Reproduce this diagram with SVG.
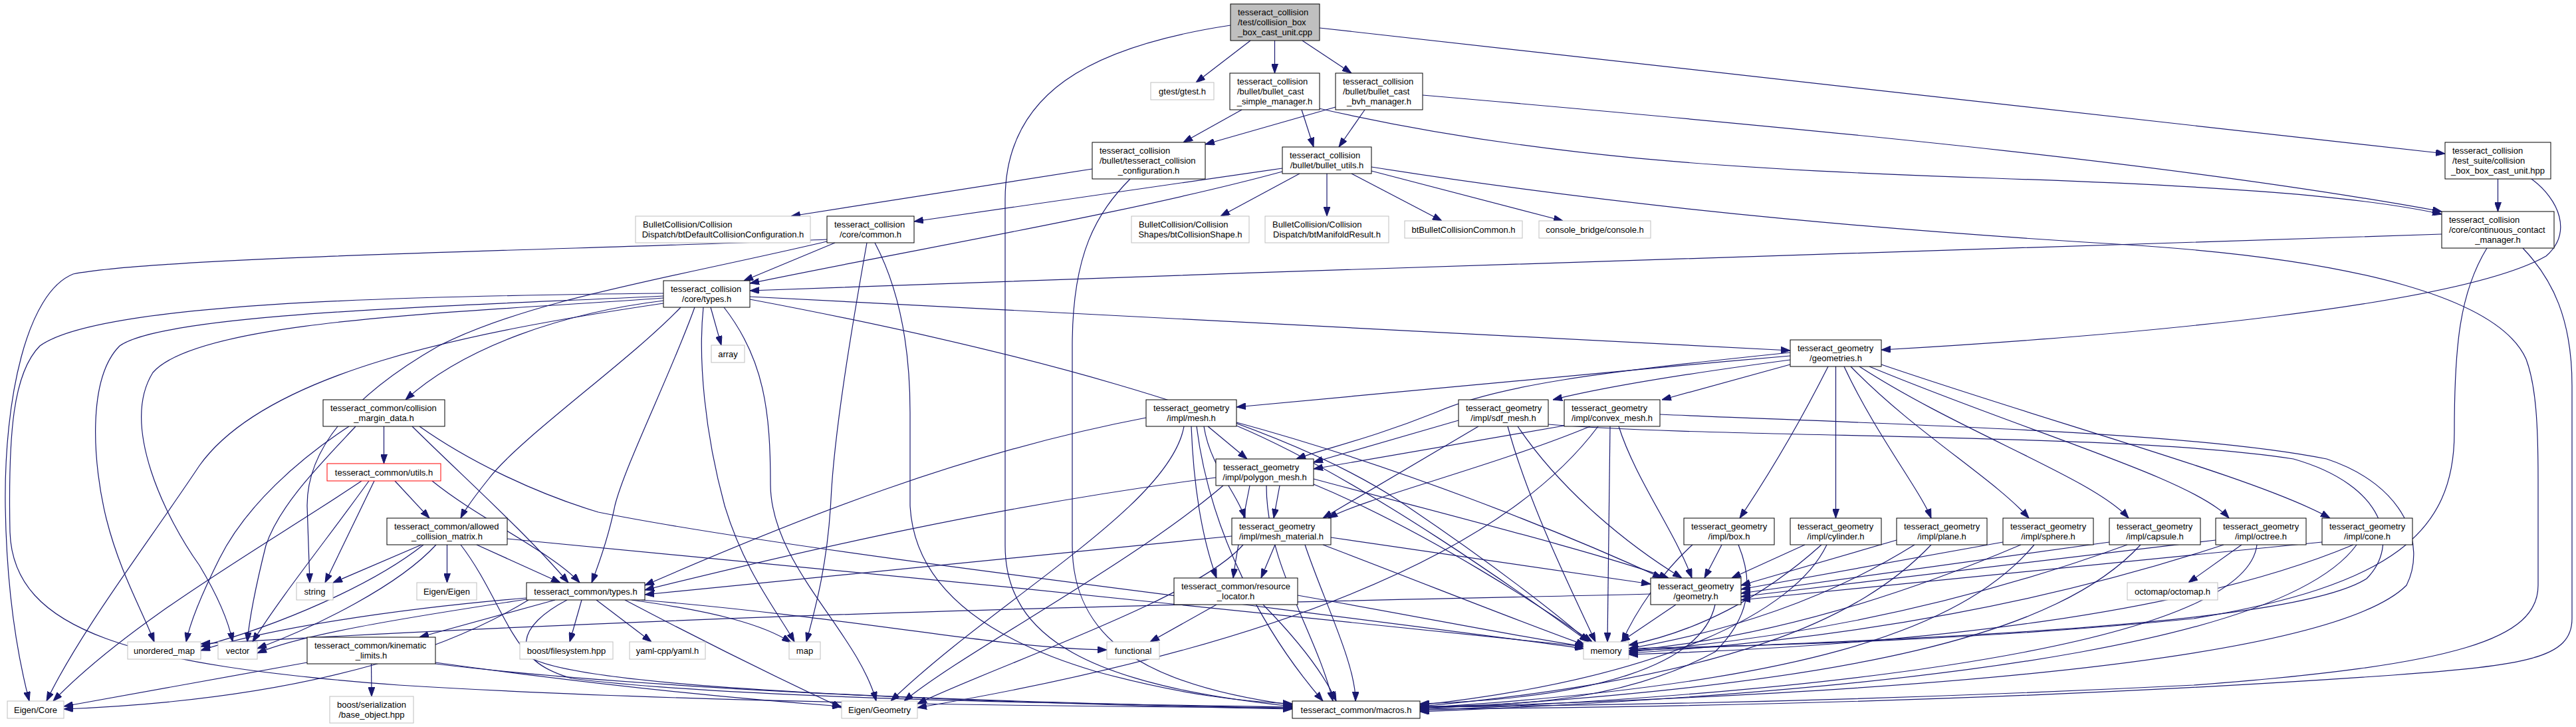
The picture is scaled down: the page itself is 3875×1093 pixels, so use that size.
<svg xmlns="http://www.w3.org/2000/svg" width="3875" height="1093" viewBox="0 0 3875 1093">
<style>
.nd rect{fill:#fff;stroke:#000;stroke-width:1}
.ext rect{fill:#fff;stroke:#bfbfbf;stroke-width:1}
.rt rect{fill:#bfbfbf;stroke:#000;stroke-width:1}
.red rect{fill:#fff;stroke:#ff0000;stroke-width:1}
text{font-family:"Liberation Sans",Arial,Helvetica,sans-serif;font-size:13px;fill:#000}
.m{text-anchor:middle}
.s{text-anchor:start}
#edges path{fill:none;stroke:#191970;stroke-width:1.2;marker-end:url(#ah)}
</style>
<defs>
<marker id="ah" viewBox="0 0 14 10" refX="14" refY="5" markerWidth="14" markerHeight="10" markerUnits="userSpaceOnUse" orient="auto">
<path d="M0,0 L14,5 L0,10 z" fill="#191970" stroke="#191970" stroke-width="1"/>
</marker>
</defs>
<rect x="0" y="0" width="3875" height="1093" fill="#fff"/>
<g id="edges">
<path d="M1881,61 L1799,124"/>
<path d="M1917.5,61 L1917.5,110"/>
<path d="M1959,61 L2033,110"/>
<path d="M1985,42 L3678,231"/>
<path d="M1851,38 C1640,70 1512,140 1512,300 L1512,820 C1512,960 1640,1030 1944,1062"/>
<path d="M1868,165 L1780,214"/>
<path d="M1958,165 L1976,221"/>
<path d="M1984,163 C2300,235 2600,255 3000,268 C3350,280 3550,295 3673,322"/>
<path d="M2009,161 L1813,217"/>
<path d="M2053,165 L2014,221"/>
<path d="M2140,143 C2800,200 3300,250 3673,318"/>
<path d="M3757.5,269 L3757.5,318"/>
<path d="M3808,269 C3850,300 3870,350 3830,385 C3700,460 3200,505 2830,526"/>
<path d="M1643,254 L1190,325"/>
<path d="M1700,269 C1650,320 1613,380 1613,520 L1613,820 C1613,960 1720,1030 1944,1060"/>
<path d="M1929,253 L1375,333"/>
<path d="M1929,258 C1700,320 1400,370 1128,426"/>
<path d="M1955,261 L1836,325"/>
<path d="M1996,261 L1996,325"/>
<path d="M2033,261 L2169,332"/>
<path d="M2063,257 L2351,332"/>
<path d="M2063,251 C2500,320 2900,350 3200,368 C3550,390 3760,450 3800,540 C3815,580 3818,640 3818,720 L3818,880 C3818,960 3700,1000 3300,1030 C2900,1050 2500,1060 2136,1063"/>
<path d="M3673,352 C3000,372 2000,405 1128,437"/>
<path d="M3741,373 C3700,440 3692,520 3692,650 C3692,800 3600,880 3300,930 C3000,960 2700,970 2450,975"/>
<path d="M3795,373 C3840,420 3869,480 3869,580 L3869,930 C3869,990 3800,1000 3600,1015 C3100,1050 2600,1063 2136,1066"/>
<path d="M1256,365 L1119,422"/>
<path d="M1244,360 C900,375 250,385 110,412 C40,440 6,600 8,760 C10,900 30,1000 44,1054"/>
<path d="M1244,363 C1000,420 800,450 660,520 C520,600 462,680 462,760 L466,876"/>
<path d="M1304,365 C1280,500 1255,650 1250,750 C1245,850 1225,920 1213,965"/>
<path d="M1316,365 C1345,420 1369,500 1369,620 L1369,760 C1375,880 1480,960 1650,1010 C1780,1045 1870,1055 1944,1058"/>
<path d="M1069,462 L1085,519"/>
<path d="M1128,446 L2693,527"/>
<path d="M998,452 C850,470 700,520 610,601"/>
<path d="M1024,462 C950,540 780,660 735,720 C715,745 700,765 693,779"/>
<path d="M1045,462 C1010,560 940,700 925,760 C915,810 900,850 890,876"/>
<path d="M1058,462 C1050,540 1060,650 1090,760 C1120,860 1170,920 1195,965"/>
<path d="M1128,450 C1500,520 1900,620 2100,750 C2250,850 2350,930 2390,965"/>
<path d="M998,445 C700,460 250,470 180,520 C130,570 140,700 160,780 C180,860 215,920 232,965"/>
<path d="M998,448 C700,470 300,480 230,560 C180,640 250,780 300,850 C330,900 345,940 350,965"/>
<path d="M998,456 C700,500 400,560 300,700 C220,820 120,950 70,1054"/>
<path d="M1089,462 C1150,540 1159,620 1159,729 C1160,850 1290,950 1318,1054"/>
<path d="M998,441 C600,445 150,455 60,520 C20,560 12,650 15,800 C20,950 200,1000 600,1030 C1000,1055 1500,1062 1944,1064"/>
<path d="M577.5,641 L577.5,697"/>
<path d="M620,641 C700,720 790,800 855,876"/>
<path d="M631,641 C700,690 800,740 900,770 C1200,830 1900,910 2383,975"/>
<path d="M525,641 C450,690 370,760 330,840 C300,900 285,940 280,965"/>
<path d="M535,641 C480,700 420,760 400,820 C385,880 375,930 372,965"/>
<path d="M544,723 C400,820 200,930 80,1054"/>
<path d="M563,723 L489,876"/>
<path d="M594,723 L646,779"/>
<path d="M650,723 C720,780 830,830 872,876"/>
<path d="M555,723 C500,800 420,900 380,965"/>
<path d="M634,819 L501,876"/>
<path d="M637,819 C560,880 420,940 302,972"/>
<path d="M656,819 C600,880 480,940 387,975"/>
<path d="M672.5,819 L672.5,876"/>
<path d="M717,819 L843,876"/>
<path d="M693,819 C740,880 760,950 800,990 C900,1040 1500,1055 1944,1065"/>
<path d="M763,810 C1200,850 2000,930 2383,972"/>
<path d="M792,899 C600,915 400,945 302,978"/>
<path d="M792,901 C600,930 450,955 387,982"/>
<path d="M835,902 L631,958"/>
<path d="M795,902 C700,960 500,1050 96,1066"/>
<path d="M875,902 L857,965"/>
<path d="M897,902 L980,965"/>
<path d="M950,902 C1080,920 1150,940 1190,966"/>
<path d="M940,902 C1050,960 1150,1010 1266,1064"/>
<path d="M853,902 C780,940 760,990 860,1020 C1100,1050 1600,1058 1944,1063"/>
<path d="M965,902 C1300,930 1500,975 1665,977"/>
<path d="M462,996 L96,1062"/>
<path d="M558.5,998 L559,1047"/>
<path d="M655,996 C900,1030 1100,1050 1266,1062"/>
<path d="M655,998 C1000,1040 1600,1060 1944,1066"/>
<path d="M1817,641 L1876,690"/>
<path d="M1811,641 C1820,700 1860,740 1873,779"/>
<path d="M1792,641 C1795,720 1805,800 1830,869"/>
<path d="M1781,641 C1760,760 1500,900 1340,1054"/>
<path d="M1724,628 C1450,680 1200,780 970,880"/>
<path d="M1860,635 C2100,700 2350,800 2500,869"/>
<path d="M1860,640 C2050,720 2300,900 2390,965"/>
<path d="M1800,641 C1820,800 1900,950 1990,1054"/>
<path d="M1925,730 L1916,779"/>
<path d="M1880,730 C1870,780 1860,830 1855,869"/>
<path d="M1829,718 C1500,760 1200,830 970,887"/>
<path d="M1976,720 C2200,780 2400,830 2510,869"/>
<path d="M1976,728 C2150,800 2330,920 2395,965"/>
<path d="M1840,730 C1700,850 1450,980 1360,1054"/>
<path d="M1905,730 C1905,850 1980,950 2005,1054"/>
<path d="M1918,819 L1897,869"/>
<path d="M1853,806 L970,894"/>
<path d="M2002,808 L2483,878"/>
<path d="M1990,819 C2150,880 2300,940 2385,970"/>
<path d="M1963,819 C1990,900 2040,1000 2039,1054"/>
<path d="M1870,819 C1800,900 1500,1000 1380,1058"/>
<path d="M1830,909 L1730,965"/>
<path d="M1952,895 C2150,930 2300,960 2383,972"/>
<path d="M1900,909 C1950,960 1990,1010 2010,1054"/>
<path d="M2194,632 L1976,695"/>
<path d="M2224,641 L1990,779"/>
<path d="M2283,641 C2350,740 2450,820 2530,869"/>
<path d="M2268,641 C2300,760 2370,900 2400,965"/>
<path d="M2329,638 C2600,660 3200,650 3450,690 C3590,730 3610,820 3560,870 C3450,940 2900,960 2450,978"/>
<path d="M2353,640 L1976,705"/>
<path d="M2392,641 C2250,700 2050,750 1998,779"/>
<path d="M2435,641 C2460,720 2520,800 2545,869"/>
<path d="M2422,641 L2418,965"/>
<path d="M2404,641 C2300,780 2050,950 1380,1064"/>
<path d="M2497,623 C2900,640 3300,650 3500,690 C3620,730 3650,820 3620,880 C3500,1000 2800,1045 2136,1064"/>
<path d="M2693,535 C2400,560 2100,590 1860,612"/>
<path d="M2693,541 C2550,560 2420,580 2336,601"/>
<path d="M2693,548 L2500,601"/>
<path d="M2693,530 C2400,560 2250,580 2160,620 C2060,660 1990,675 1950,690"/>
<path d="M2750,551 C2700,650 2650,730 2617,779"/>
<path d="M2761.5,551 L2761.5,779"/>
<path d="M2774,551 C2820,650 2890,740 2905,779"/>
<path d="M2784,551 C2880,650 3000,720 3052,779"/>
<path d="M2797,551 C2950,650 3150,720 3202,779"/>
<path d="M2812,551 C3050,650 3300,720 3353,779"/>
<path d="M2830,548 C3100,640 3400,720 3505,779"/>
<path d="M2590,819 L2564,869"/>
<path d="M2546,819 C2500,860 2460,920 2440,965"/>
<path d="M2615,819 C2640,880 2630,930 2580,980 C2450,1050 2300,1062 2136,1062"/>
<path d="M2715,819 L2605,869"/>
<path d="M2740,819 C2650,900 2550,950 2450,970"/>
<path d="M2748,819 C2700,920 2500,1020 2136,1060"/>
<path d="M2853,812 L2619,880"/>
<path d="M2880,819 C2750,900 2600,950 2450,975"/>
<path d="M2905,819 C2800,930 2600,1020 2136,1062"/>
<path d="M3013,815 L2619,886"/>
<path d="M3040,819 C2850,900 2650,960 2450,978"/>
<path d="M3060,819 C2950,950 2700,1030 2136,1064"/>
<path d="M3173,815 L2619,892"/>
<path d="M3200,819 C2950,910 2700,960 2450,980"/>
<path d="M3220,819 C3100,950 2800,1030 2136,1066"/>
<path d="M3333,812 L2619,897"/>
<path d="M3345,819 C3100,900 2800,960 2450,982"/>
<path d="M3395,819 C3380,950 2900,1035 2136,1068"/>
<path d="M3372,819 L3292,876"/>
<path d="M3493,815 L2619,902"/>
<path d="M3540,819 C3300,920 2900,970 2450,984"/>
<path d="M3545,819 C3450,950 3000,1035 2136,1070"/>
<path d="M2521,909 L2438,965"/>
<path d="M2580,909 C2560,1000 2400,1050 2136,1058"/>
<path d="M2483,893 C2000,905 1200,915 302,968"/>
</g>
<g id="n_root" class="rt"><rect x="1851" y="6" width="134" height="55"/><text><tspan class="s" x="1862" y="23.3">tesseract_collision</tspan><tspan class="s" x="1862" y="38">/test/collision_box</tspan><tspan class="m" x="1918" y="52.7">_box_cast_unit.cpp</tspan></text></g>
<g id="n_gtest" class="ext"><rect x="1731" y="124" width="95" height="26"/><text class="m" x="1778.5" y="141.5">gtest/gtest.h</text></g>
<g id="n_simple" class="nd"><rect x="1850" y="110" width="135" height="55"/><text><tspan class="s" x="1861" y="127.3">tesseract_collision</tspan><tspan class="s" x="1861" y="142">/bullet/bullet_cast</tspan><tspan class="m" x="1917.5" y="156.7">_simple_manager.h</tspan></text></g>
<g id="n_bvh" class="nd"><rect x="2009" y="110" width="131" height="55"/><text><tspan class="s" x="2020" y="127.3">tesseract_collision</tspan><tspan class="s" x="2020" y="142">/bullet/bullet_cast</tspan><tspan class="m" x="2074.5" y="156.7">_bvh_manager.h</tspan></text></g>
<g id="n_hpp" class="nd"><rect x="3678" y="214" width="159" height="55"/><text><tspan class="s" x="3689" y="231.3">tesseract_collision</tspan><tspan class="s" x="3689" y="246">/test_suite/collision</tspan><tspan class="m" x="3757.5" y="260.7">_box_box_cast_unit.hpp</tspan></text></g>
<g id="n_config" class="nd"><rect x="1643" y="214" width="170" height="55"/><text><tspan class="s" x="1654" y="231.3">tesseract_collision</tspan><tspan class="s" x="1654" y="246">/bullet/tesseract_collision</tspan><tspan class="m" x="1728" y="260.7">_configuration.h</tspan></text></g>
<g id="n_butils" class="nd"><rect x="1929" y="221" width="134" height="40"/><text><tspan class="s" x="1940" y="238.2">tesseract_collision</tspan><tspan class="m" x="1996" y="252.9">/bullet/bullet_utils.h</tspan></text></g>
<g id="n_btdef" class="ext"><rect x="956" y="325" width="263" height="40"/><text><tspan class="s" x="967" y="342.2">BulletCollision/Collision</tspan><tspan class="m" x="1087.5" y="356.9">Dispatch/btDefaultCollisionConfiguration.h</tspan></text></g>
<g id="n_common" class="nd"><rect x="1244" y="325" width="131" height="40"/><text><tspan class="s" x="1255" y="342.2">tesseract_collision</tspan><tspan class="m" x="1309.5" y="356.9">/core/common.h</tspan></text></g>
<g id="n_btshape" class="ext"><rect x="1702" y="325" width="177" height="40"/><text><tspan class="s" x="1713" y="342.2">BulletCollision/Collision</tspan><tspan class="m" x="1790.5" y="356.9">Shapes/btCollisionShape.h</tspan></text></g>
<g id="n_btman" class="ext"><rect x="1903" y="325" width="186" height="40"/><text><tspan class="s" x="1914" y="342.2">BulletCollision/Collision</tspan><tspan class="m" x="1996" y="356.9">Dispatch/btManifoldResult.h</tspan></text></g>
<g id="n_btbcc" class="ext"><rect x="2113" y="332" width="177" height="26"/><text class="m" x="2201.5" y="349.5">btBulletCollisionCommon.h</text></g>
<g id="n_console" class="ext"><rect x="2315" y="332" width="168" height="26"/><text class="m" x="2399" y="349.5">console_bridge/console.h</text></g>
<g id="n_ccm" class="nd"><rect x="3673" y="318" width="169" height="55"/><text><tspan class="s" x="3684" y="335.3">tesseract_collision</tspan><tspan class="s" x="3684" y="350">/core/continuous_contact</tspan><tspan class="m" x="3757.5" y="364.7">_manager.h</tspan></text></g>
<g id="n_ctypes" class="nd"><rect x="998" y="422" width="130" height="40"/><text><tspan class="s" x="1009" y="439.2">tesseract_collision</tspan><tspan class="m" x="1063" y="453.9">/core/types.h</tspan></text></g>
<g id="n_array" class="ext"><rect x="1070" y="519" width="50" height="26"/><text class="m" x="1095" y="536.5">array</text></g>
<g id="n_geoms" class="nd"><rect x="2693" y="511" width="137" height="40"/><text><tspan class="s" x="2704" y="528.2">tesseract_geometry</tspan><tspan class="m" x="2761.5" y="542.9">/geometries.h</tspan></text></g>
<g id="n_cmd" class="nd"><rect x="486" y="601" width="183" height="40"/><text><tspan class="s" x="497" y="618.2">tesseract_common/collision</tspan><tspan class="m" x="577.5" y="632.9">_margin_data.h</tspan></text></g>
<g id="n_mesh" class="nd"><rect x="1724" y="601" width="136" height="40"/><text><tspan class="s" x="1735" y="618.2">tesseract_geometry</tspan><tspan class="m" x="1792" y="632.9">/impl/mesh.h</tspan></text></g>
<g id="n_sdf" class="nd"><rect x="2194" y="601" width="135" height="40"/><text><tspan class="s" x="2205" y="618.2">tesseract_geometry</tspan><tspan class="m" x="2261.5" y="632.9">/impl/sdf_mesh.h</tspan></text></g>
<g id="n_convex" class="nd"><rect x="2353" y="601" width="144" height="40"/><text><tspan class="s" x="2364" y="618.2">tesseract_geometry</tspan><tspan class="m" x="2425" y="632.9">/impl/convex_mesh.h</tspan></text></g>
<g id="n_utils" class="red"><rect x="492" y="697" width="171" height="26"/><text class="m" x="577.5" y="714.5">tesseract_common/utils.h</text></g>
<g id="n_poly" class="nd"><rect x="1829" y="690" width="147" height="40"/><text><tspan class="s" x="1840" y="707.2">tesseract_geometry</tspan><tspan class="m" x="1902.5" y="721.9">/impl/polygon_mesh.h</tspan></text></g>
<g id="n_acm" class="nd"><rect x="582" y="779" width="181" height="40"/><text><tspan class="s" x="593" y="796.2">tesseract_common/allowed</tspan><tspan class="m" x="672.5" y="810.9">_collision_matrix.h</tspan></text></g>
<g id="n_mat" class="nd"><rect x="1853" y="779" width="149" height="40"/><text><tspan class="s" x="1864" y="796.2">tesseract_geometry</tspan><tspan class="m" x="1927.5" y="810.9">/impl/mesh_material.h</tspan></text></g>
<g id="n_box" class="nd"><rect x="2533" y="779" width="136" height="40"/><text><tspan class="s" x="2544" y="796.2">tesseract_geometry</tspan><tspan class="m" x="2601" y="810.9">/impl/box.h</tspan></text></g>
<g id="n_cyl" class="nd"><rect x="2693" y="779" width="137" height="40"/><text><tspan class="s" x="2704" y="796.2">tesseract_geometry</tspan><tspan class="m" x="2761.5" y="810.9">/impl/cylinder.h</tspan></text></g>
<g id="n_plane" class="nd"><rect x="2853" y="779" width="136" height="40"/><text><tspan class="s" x="2864" y="796.2">tesseract_geometry</tspan><tspan class="m" x="2921" y="810.9">/impl/plane.h</tspan></text></g>
<g id="n_sphere" class="nd"><rect x="3013" y="779" width="136" height="40"/><text><tspan class="s" x="3024" y="796.2">tesseract_geometry</tspan><tspan class="m" x="3081" y="810.9">/impl/sphere.h</tspan></text></g>
<g id="n_capsule" class="nd"><rect x="3173" y="779" width="137" height="40"/><text><tspan class="s" x="3184" y="796.2">tesseract_geometry</tspan><tspan class="m" x="3241.5" y="810.9">/impl/capsule.h</tspan></text></g>
<g id="n_octree" class="nd"><rect x="3333" y="779" width="136" height="40"/><text><tspan class="s" x="3344" y="796.2">tesseract_geometry</tspan><tspan class="m" x="3401" y="810.9">/impl/octree.h</tspan></text></g>
<g id="n_cone" class="nd"><rect x="3493" y="779" width="136" height="40"/><text><tspan class="s" x="3504" y="796.2">tesseract_geometry</tspan><tspan class="m" x="3561" y="810.9">/impl/cone.h</tspan></text></g>
<g id="n_string" class="ext"><rect x="446" y="876" width="55" height="26"/><text class="m" x="473.5" y="893.5">string</text></g>
<g id="n_eigen" class="ext"><rect x="627" y="876" width="90" height="26"/><text class="m" x="672" y="893.5">Eigen/Eigen</text></g>
<g id="n_tctypes" class="nd"><rect x="792" y="876" width="178" height="26"/><text class="m" x="881" y="893.5">tesseract_common/types.h</text></g>
<g id="n_rloc" class="nd"><rect x="1766" y="869" width="186" height="40"/><text><tspan class="s" x="1777" y="886.2">tesseract_common/resource</tspan><tspan class="m" x="1859" y="900.9">_locator.h</tspan></text></g>
<g id="n_geom" class="nd"><rect x="2483" y="869" width="136" height="40"/><text><tspan class="s" x="2494" y="886.2">tesseract_geometry</tspan><tspan class="m" x="2551" y="900.9">/geometry.h</tspan></text></g>
<g id="n_octomap" class="ext"><rect x="3200" y="876" width="136" height="26"/><text class="m" x="3268" y="893.5">octomap/octomap.h</text></g>
<g id="n_umap" class="ext"><rect x="192" y="965" width="110" height="26"/><text class="m" x="247" y="982.5">unordered_map</text></g>
<g id="n_vector" class="ext"><rect x="328" y="965" width="59" height="26"/><text class="m" x="357.5" y="982.5">vector</text></g>
<g id="n_kin" class="nd"><rect x="462" y="958" width="193" height="40"/><text><tspan class="s" x="473" y="975.2">tesseract_common/kinematic</tspan><tspan class="m" x="558.5" y="989.9">_limits.h</tspan></text></g>
<g id="n_bfs" class="ext"><rect x="782" y="965" width="140" height="26"/><text class="m" x="852" y="982.5">boost/filesystem.hpp</text></g>
<g id="n_yaml" class="ext"><rect x="947" y="965" width="114" height="26"/><text class="m" x="1004" y="982.5">yaml-cpp/yaml.h</text></g>
<g id="n_map" class="ext"><rect x="1187" y="965" width="47" height="26"/><text class="m" x="1210.5" y="982.5">map</text></g>
<g id="n_func" class="ext"><rect x="1665" y="965" width="79" height="26"/><text class="m" x="1704.5" y="982.5">functional</text></g>
<g id="n_memory" class="ext"><rect x="2382" y="965" width="68" height="26"/><text class="m" x="2416" y="982.5">memory</text></g>
<g id="n_ecore" class="ext"><rect x="11" y="1054" width="85" height="26"/><text class="m" x="53.5" y="1071.5">Eigen/Core</text></g>
<g id="n_bso" class="ext"><rect x="496" y="1047" width="126" height="40"/><text><tspan class="s" x="507" y="1064.2">boost/serialization</tspan><tspan class="m" x="559" y="1078.9">/base_object.hpp</tspan></text></g>
<g id="n_egeo" class="ext"><rect x="1266" y="1054" width="114" height="26"/><text class="m" x="1323" y="1071.5">Eigen/Geometry</text></g>
<g id="n_macros" class="nd"><rect x="1944" y="1054" width="192" height="26"/><text class="m" x="2040" y="1071.5">tesseract_common/macros.h</text></g>
</svg>
